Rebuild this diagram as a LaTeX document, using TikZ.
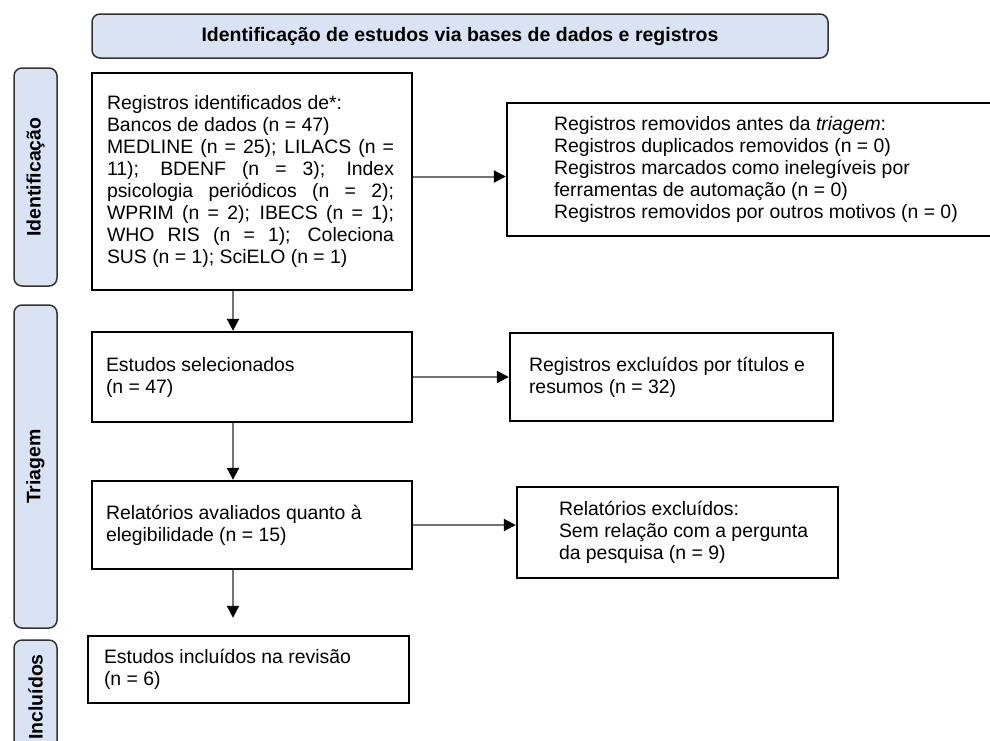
\documentclass[tikz,border=0pt]{standalone}
\usepackage{fontspec}
\setmainfont{Liberation Sans}
\usetikzlibrary{arrows.meta}
\definecolor{stageblue}{HTML}{DAE3F3}
\newcommand{\justline}[1]{\makebox[287pt][s]{#1}}
\tikzset{
  stage/.style={draw=black!80, fill=stageblue, rounded corners=8pt, line width=1.5pt,
    font=\bfseries\fontsize{19.5}{22}\selectfont},
  rec/.style={draw=black, line width=2.4pt, inner sep=0pt},
  txt/.style={anchor=west, align=left, inner sep=0pt, font=\fontsize{19.4}{22}\selectfont},
  flow/.style={draw=black!55, line width=2pt, -{Triangle[length=12pt,width=12pt,color=black]}}
}
\begin{document}
\begin{tikzpicture}[x=1pt, y=-1pt]
  \clip (0,0) rectangle (990,740);
  \node[stage, minimum width=736, minimum height=44] (head) at (460,36)
    {Identificação de estudos via bases de dados e registros};
  \node[stage, rotate=90, minimum width=218, minimum height=43] (sideid) at (35.5,177) {Identificação};
  \node[stage, rotate=90, minimum width=323, minimum height=43] (sidetri) at (35.5,466.5) {Triagem};
  \node[stage, rotate=90, minimum width=114, minimum height=43] (sideinc) at (35.5,697) {Incluídos};

  \node[rec, minimum width=320, minimum height=217] (ident) at (252,181.5) {};
  \node[rec, minimum width=488, minimum height=133] (removed) at (751,169.5) {};
  \node[rec, minimum width=320, minimum height=90] (sel) at (252,377) {};
  \node[rec, minimum width=323, minimum height=88] (excl) at (671.5,377) {};
  \node[rec, minimum width=320, minimum height=88] (elig) at (252,525) {};
  \node[rec, minimum width=321, minimum height=91] (rep) at (677.5,532.5) {};
  \node[rec, minimum width=321, minimum height=67] (incl) at (248.5,669.5) {};

  \node[txt] (identtxt) at ([xshift=16pt]ident.west) {Registros identificados de*:\\
    Bancos de dados (n = 47)\\
    \justline{MEDLINE (n = 25); LILACS (n =}\\
    \justline{11); BDENF (n = 3); Index}\\
    \justline{psicologia periódicos (n = 2);}\\
    \justline{WPRIM (n = 2); IBECS (n = 1);}\\
    \justline{WHO RIS (n = 1); Coleciona}\\
    SUS (n = 1); SciELO (n = 1)};
  \node[txt] (removedtxt) at ([xshift=48pt]removed.west) {Registros removidos antes da \textit{triagem}:\\
    Registros duplicados removidos (n = 0)\\
    Registros marcados como inelegíveis por\\
    ferramentas de automação (n = 0)\\
    Registros removidos por outros motivos (n = 0)};
  \node[txt] (seltxt) at ([xshift=15pt]sel.west) {Estudos selecionados\\(n = 47)};
  \node[txt] (excltxt) at ([xshift=20pt]excl.west) {Registros excluídos por títulos e\\resumos (n = 32)};
  \node[txt] (eligtxt) at ([xshift=15pt]elig.west) {Relatórios avaliados quanto à\\elegibilidade (n = 15)};
  \node[txt] (reptxt) at ([xshift=43pt]rep.west) {Relatórios excluídos:\\Sem relação com a pergunta\\da pesquisa (n = 9)};
  \node[txt] (incltxt) at ([xshift=17pt]incl.west) {Estudos incluídos na revisão\\(n = 6)};

  \coordinate (col) at (233,0);
  \begin{scope}[flow]
    \draw ([yshift=5pt]ident.east) -- ([yshift=5pt]ident.east -| removed.west);
    \draw (sel.east) -- (sel.east -| excl.west);
    \draw (elig.east) -- (elig.east -| rep.west);
    \draw (ident.south -| col) -- (sel.north -| col);
    \draw (sel.south -| col) -- (elig.north -| col);
    \draw[shorten >=17pt] (elig.south -| col) -- (incl.north -| col);
  \end{scope}
\end{tikzpicture}
\end{document}
